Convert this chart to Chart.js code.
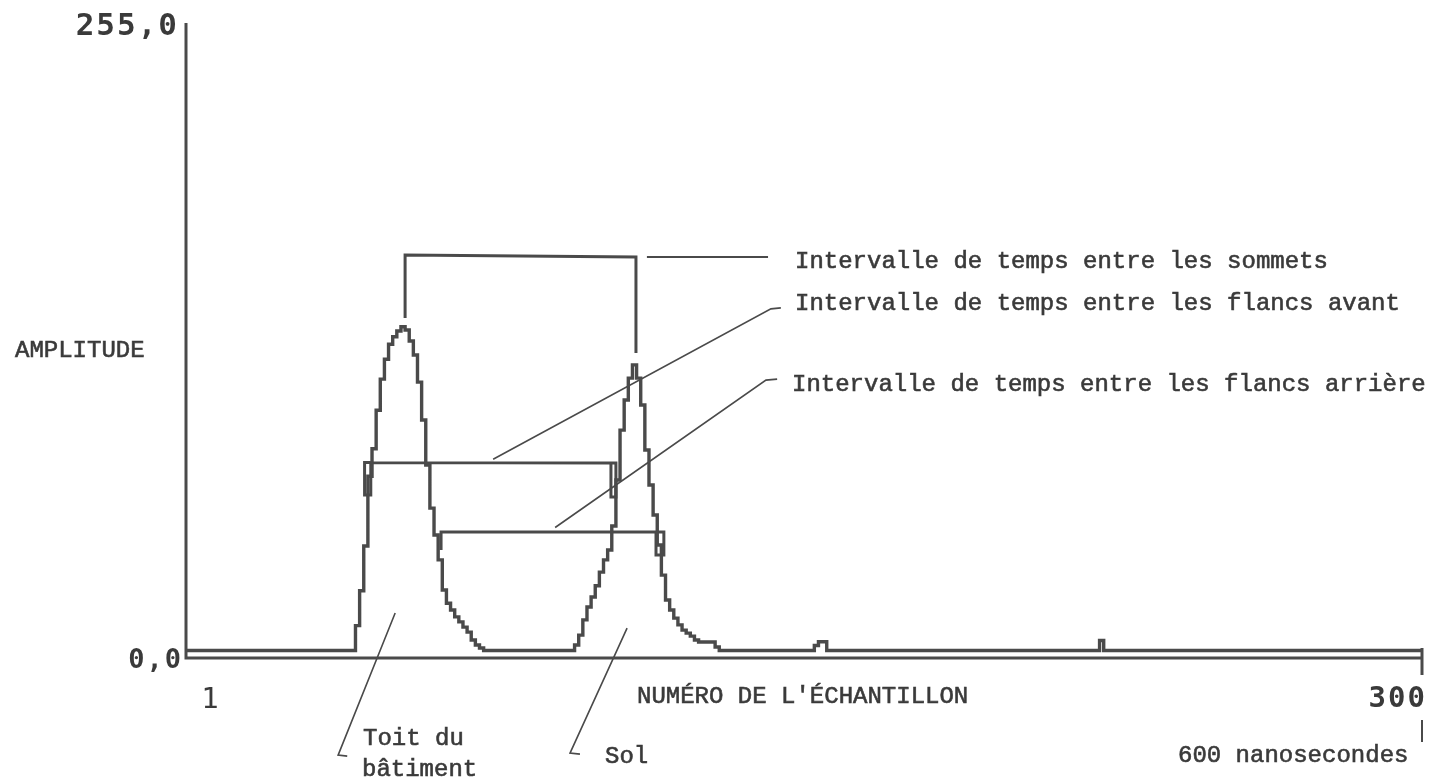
<!DOCTYPE html>
<html lang="fr">
<head>
<meta charset="utf-8">
<title>Amplitude en fonction du numéro de l'échantillon</title>
<script src="https://cdn.jsdelivr.net/npm/chart.js@4/dist/chart.umd.min.js"></script>
<style>
  html, body { margin: 0; padding: 0; background: #ffffff; }
  #wrap { width: 1432px; height: 779px; }
</style>
</head>
<body>
<div id="wrap"><canvas id="trace" width="1432" height="779"></canvas></div>
<script>
// Recorded echo: sample number where the digitised amplitude changes, and the new amplitude (0-255)
const sampleNumbers = [
  1, 42, 43, 44, 45, 46, 47, 48, 49, 50, 51, 52, 53, 54, 55, 56, 57, 58, 59, 60,
  61, 62, 63, 64, 65, 66, 67, 68, 69, 70, 71, 72, 73,
  95, 96, 97, 98, 99, 100, 101, 102, 103, 104, 105, 106, 107, 108, 109, 110,
  111, 112, 113, 114, 115, 116, 117, 118, 119, 120, 121, 122, 123, 124, 125, 129, 130,
  153, 154, 156, 222, 223, 300
];
const amplitudes = [
  3, 13, 27, 45, 73, 84, 99.5, 112, 120, 126, 129, 131.3, 133, 131.7, 127.3, 121.7, 110.8, 95.6, 77.5, 60.2,
  49.4, 39.4, 27.3, 22, 19.3, 16.5, 14.5, 12.4, 10.4, 7.2, 5.2, 4, 3,
  5.2, 9.2, 15.3, 20.5, 24.5, 29, 34.5, 39.4, 43.4, 53, 71.5, 91.5, 103.6, 112.4, 117.7, 112.4,
  101.6, 83.5, 69.5, 57.4, 45.4, 33.3, 23.3, 19.3, 16, 13.3, 11.2, 10, 8.8, 7.2, 6.4, 4.4, 3,
  5, 6.5, 3, 7, 3, 3
];

// Axis range and the labels written at its ends
const sampleRange = [1, 300];
const amplitudeRange = [0, 255];
const sampleTickLabels = ['1', '300'];
const amplitudeTickLabels = ['0,0', '255,0'];

// Interval brackets (sample number, amplitude)
const peakBracketX = [54, 54, 109.85, 109.85];
const peakBracketY = [136.5, 161.8, 161, 122.5];
const leadingBracketX = [45.7, 44.2, 44.2, 45.7, 45.7, 103.8, 103.8, 105, 105, 103.8];
const leadingBracketY = [78.5, 78.5, 65.5, 65.5, 78.5, 78.3, 64.7, 64.7, 78.3, 78.3];
const trailingBracketX = [62.7, 62.7, 114.7, 114.7, 116.6, 116.6, 114.7];
const trailingBracketY = [43.4, 50.6, 50.6, 41.4, 41.4, 50.6, 50.6];

// Leader lines tying each feature to its caption
const peakLeaderX = [112.5, 141.8];
const peakLeaderY = [161, 161];
const leadingLeaderX = [75.3, 142.5, 144.9];
const leadingLeaderY = [79.8, 140.2, 140.6];
const trailingLeaderX = [90.3, 141.3, 144];
const trailingLeaderY = [52.4, 111.6, 112];
const roofLeaderX = [51.6, 37.8, 40];
const roofLeaderY = [18.1, -39, -39.4];
const groundLeaderX = [107.7, 93.9, 96.3];
const groundLeaderY = [12, -38.2, -38.6];

const INK = '#4a4a4a';
const TEXT_INK = '#3a3a3a';

const toPoints = (xs, ys) => xs.map((v, i) => ({ x: v, y: ys[i] }));

const penLine = (xs, ys, width) => ({
  data: toPoints(xs, ys),
  borderColor: INK,
  borderWidth: width,
  pointRadius: 0,
  fill: false,
  clip: false,
  tension: 0
});

// Typed caption with a slightly inked stroke
function typeText(ctx, text, x, y) {
  ctx.fillText(text, x, y);
  ctx.strokeText(text, x, y);
}

// Axes, end ticks and every caption of the plot
const plotterFrame = {
  id: 'plotterFrame',
  afterDatasetsDraw(chart) {
    const { ctx, scales: { x, y } } = chart;
    const left = x.getPixelForValue(sampleRange[0]);
    const right = x.getPixelForValue(sampleRange[1]);
    const top = y.getPixelForValue(amplitudeRange[1]);
    const bottom = y.getPixelForValue(amplitudeRange[0]);

    ctx.save();
    ctx.strokeStyle = INK;
    ctx.lineWidth = 3;
    ctx.lineCap = 'butt';
    ctx.beginPath();
    ctx.moveTo(left, top);
    ctx.lineTo(left, bottom);
    ctx.lineTo(right, bottom);
    ctx.stroke();

    // end-of-record tick and the 600 ns marker below it
    ctx.beginPath();
    ctx.moveTo(right, bottom - 10);
    ctx.lineTo(right, bottom + 17);
    ctx.stroke();
    ctx.lineWidth = 2;
    ctx.beginPath();
    ctx.moveTo(right, bottom + 62);
    ctx.lineTo(right, bottom + 84);
    ctx.stroke();

    ctx.fillStyle = TEXT_INK;
    ctx.strokeStyle = TEXT_INK;
    ctx.textBaseline = 'alphabetic';

    // numeric end labels
    ctx.font = 'bold 31px "DejaVu Sans Mono"';
    ctx.textAlign = 'right';
    ctx.letterSpacing = '2px';
    ctx.fillText(amplitudeTickLabels[1], left - 7, top + 12);
    ctx.font = 'bold 27px "DejaVu Sans Mono"';
    ctx.fillText(amplitudeTickLabels[0], left - 3, bottom + 10);
    ctx.font = 'bold 29px "DejaVu Sans Mono"';
    ctx.fillText(sampleTickLabels[1], right + 5, bottom + 49);
    ctx.letterSpacing = '0px';
    ctx.textAlign = 'center';
    ctx.font = '29px "DejaVu Sans Mono"';
    ctx.fillText(sampleTickLabels[0], left + 24, bottom + 50);

    // typed captions
    ctx.font = '24px "Liberation Mono"';
    ctx.lineWidth = 0.6;
    ctx.textAlign = 'left';
    typeText(ctx, 'AMPLITUDE', 15, 357);
    typeText(ctx, "NUMÉRO DE L'ÉCHANTILLON", 637, 703);
    typeText(ctx, 'Intervalle de temps entre les sommets', 795, 268);
    typeText(ctx, 'Intervalle de temps entre les flancs avant', 795, 310);
    typeText(ctx, 'Intervalle de temps entre les flancs arrière', 792, 391);
    typeText(ctx, 'Toit du', 363, 745);
    typeText(ctx, 'bâtiment', 362, 776);
    typeText(ctx, 'Sol', 605, 763);
    typeText(ctx, '600 nanosecondes', 1178, 762);
    ctx.restore();
  }
};

new Chart(document.getElementById('trace').getContext('2d'), {
  type: 'line',
  data: {
    datasets: [
      {
        label: 'Amplitude',
        data: toPoints(sampleNumbers, amplitudes),
        stepped: true,
        borderColor: INK,
        borderWidth: 3.4,
        pointRadius: 0,
        fill: false,
        clip: false
      },
      penLine(peakBracketX, peakBracketY, 3),
      penLine(leadingBracketX, leadingBracketY, 3),
      penLine(trailingBracketX, trailingBracketY, 3),
      penLine(peakLeaderX, peakLeaderY, 2),
      penLine(leadingLeaderX, leadingLeaderY, 1.6),
      penLine(trailingLeaderX, trailingLeaderY, 1.6),
      penLine(roofLeaderX, roofLeaderY, 1.6),
      penLine(groundLeaderX, groundLeaderY, 1.6)
    ]
  },
  options: {
    responsive: false,
    animation: false,
    devicePixelRatio: 1,
    layout: { padding: { left: 186, right: 10, top: 23, bottom: 121 } },
    plugins: { legend: { display: false }, tooltip: { enabled: false } },
    scales: {
      x: { type: 'linear', min: sampleRange[0], max: sampleRange[1], display: false },
      y: { type: 'linear', min: amplitudeRange[0], max: amplitudeRange[1], display: false }
    }
  },
  plugins: [plotterFrame]
});
</script>
</body>
</html>
